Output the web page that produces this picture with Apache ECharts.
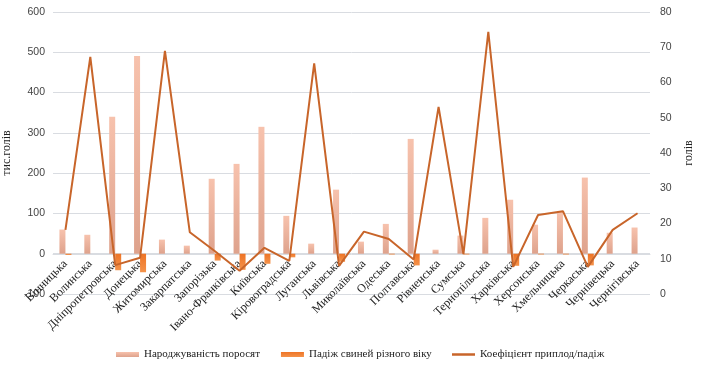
<!DOCTYPE html>
<html><head><meta charset="utf-8">
<script src="https://cdn.jsdelivr.net/npm/echarts@6/dist/echarts.min.js"></script>
<style>html,body{margin:0;padding:0;background:#fff}#c{width:701px;height:365px}</style>
</head><body><div id="c"></div>
<script>
const categories = ['Вінницька','Волинська','Дніпропетровська','Донецька','Житомирська','Закарпатська','Запорізька','Івано-Франківська','Київська','Кіровоградська','Луганська','Львівська','Миколаївська','Одеська','Полтавська','Рівненська','Сумська','Тернопільська','Харківська','Херсонська','Хмельницька','Черкаська','Чернівецька','Чернігівська'];
const births = [60,47,340,491,35,20,186,223,315,94,25,159,30,74,285,10,45,89,134,72,104,189,52,65];
const deaths = [-3,0,-41,-46,0,0,-17,-40,-25,-9,0,-20,0,-2,-29,0,-2,0,-30,-2,-2,-29,0,0];
const ratio = [18.2,67.3,8.2,10.3,69.0,17.5,12.2,6.6,13.1,9.4,65.4,8.0,17.7,15.6,9.8,53.1,11.3,74.4,7.7,22.4,23.5,7.7,18.2,22.9];
const leftTicks = {min:-100,max:600,interval:100};
const rightTicks = {min:0,max:80,interval:10};
const names = ['Народжуваність поросят','Падіж свиней різного віку','Коефіцієнт приплод/падіж'];

const serif = '"Liberation Serif","DejaVu Serif",serif';
const sans = '"Liberation Sans","DejaVu Sans",sans-serif';
const legText = {fontFamily:serif,fontSize:11,color:'#222'};
const chart = echarts.init(document.getElementById('c'));
chart.setOption({
  animation:false,
  textStyle:{fontFamily:serif},
  grid:{left:53,right:51,top:12,bottom:71,containLabel:false,outerBoundsMode:'none'},
  legend:[
    {top:344,left:111,itemGap:21,itemWidth:23,itemHeight:5,textStyle:legText,
     data:[{name:names[0],icon:'rect'},{name:names[1],icon:'rect'}]},
    {top:344,left:447,itemWidth:23,itemHeight:2.5,textStyle:legText,
     data:[{name:names[2],icon:'rect'}]}
  ],
  xAxis:{type:'category',data:categories,offset:-40,
    axisLine:{onZero:false,lineStyle:{color:'#d9dce1'}},axisTick:{show:false},
    axisLabel:{rotate:45,interval:0,hideOverlap:false,fontSize:12,color:'#222',fontFamily:serif,margin:8}},
  yAxis:[
    {type:'value',min:leftTicks.min,max:leftTicks.max,interval:leftTicks.interval,
     name:'тис.голів',nameLocation:'middle',nameGap:36,nameRotate:90,
     nameTextStyle:{fontFamily:serif,fontSize:12,color:'#222'},
     axisLabel:{fontSize:10.5,color:'#444',fontFamily:sans,margin:8},
     axisLine:{show:false},axisTick:{show:false},
     splitLine:{lineStyle:{color:'#d9dce1'}}},
    {type:'value',min:rightTicks.min,max:rightTicks.max,interval:rightTicks.interval,
     name:'голів',nameLocation:'middle',nameGap:30,nameRotate:90,
     nameTextStyle:{fontFamily:serif,fontSize:12,color:'#222'},
     axisLabel:{fontSize:10.5,color:'#444',fontFamily:sans,margin:10},
     axisLine:{show:false},axisTick:{show:false},splitLine:{show:false}}
  ],
  series:[
    {name:names[0],type:'bar',data:births,barWidth:6,barGap:'0%',
     itemStyle:{color:new echarts.graphic.LinearGradient(0,0,0,1,[{offset:0,color:'#f7c2ad'},{offset:1,color:'#dea28c'}])}},
    {name:names[1],type:'bar',data:deaths,barWidth:6,
     itemStyle:{color:new echarts.graphic.LinearGradient(0,0,0,1,[{offset:0,color:'#ee7426'},{offset:1,color:'#f4924a'}])}},
    {name:names[2],type:'line',yAxisIndex:1,data:ratio,symbol:'none',
     lineStyle:{color:'#c8652a',width:2},itemStyle:{color:'#c8652a'}}
  ]
});
</script></body></html>
